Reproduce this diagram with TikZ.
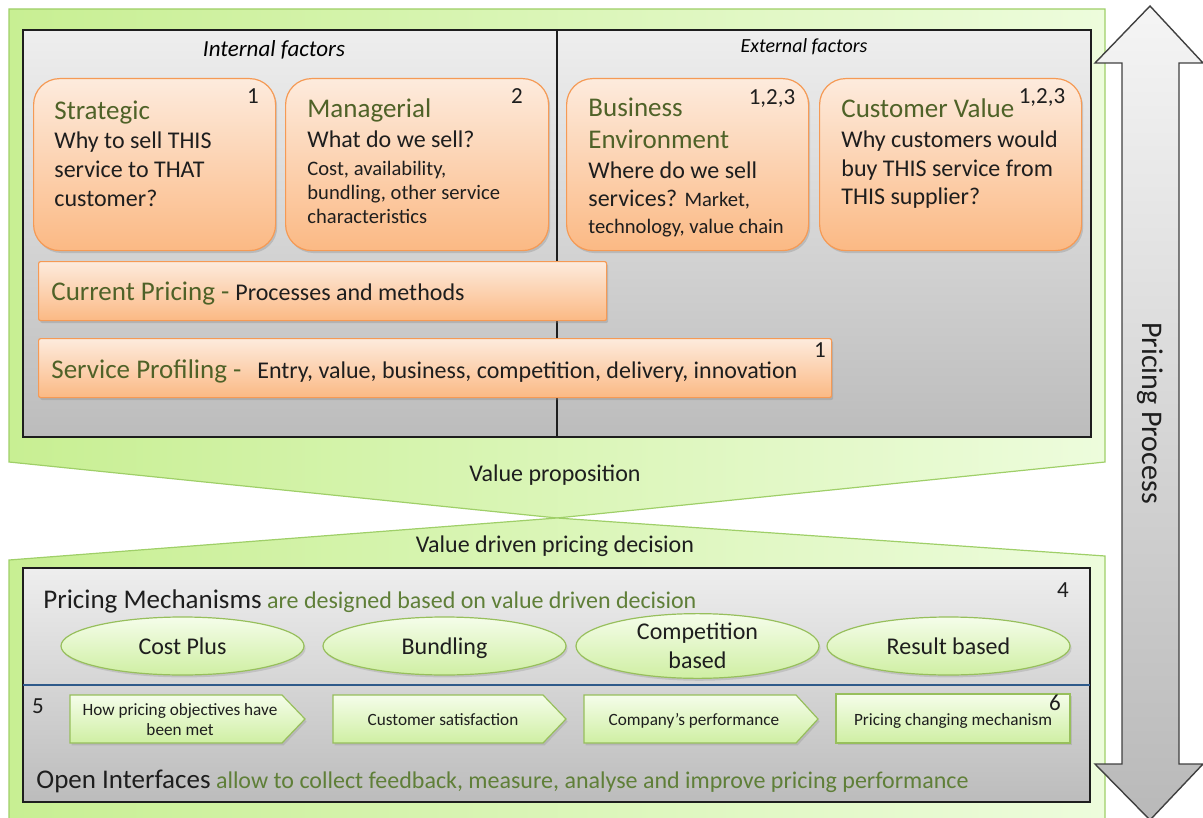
\documentclass[tikz,border=0pt]{standalone}
\usepackage{fontspec}
\setmainfont{Carlito}
\usetikzlibrary{positioning,shapes.geometric,shadows}
\definecolor{ink}{HTML}{1E1E1E}
\definecolor{olive}{HTML}{4F6228}
\definecolor{sage}{HTML}{5F7F38}
\definecolor{limeA}{HTML}{C8EF93}
\definecolor{limeB}{HTML}{EDFCDC}
\definecolor{limeE}{HTML}{9FCF68}
\definecolor{greyA}{HTML}{EEEEEE}
\definecolor{greyB}{HTML}{BCBCBC}
\definecolor{peachA}{HTML}{FDEBDD}
\definecolor{peachB}{HTML}{FBB984}
\definecolor{peachE}{HTML}{F59A55}
\definecolor{pillA}{HTML}{F5FDEA}
\definecolor{pillB}{HTML}{CFEFA3}
\definecolor{pillE}{HTML}{97BF5C}
\definecolor{rule}{HTML}{2E5A8A}
\newcommand{\fhead}[1]{{\fontsize{13.5}{15}\selectfont\color{olive}#1}}
\newcommand{\fsmall}[1]{{\fontsize{10.3}{12}\selectfont #1}}
\tikzset{panel/.style={draw=limeE,line width=.6pt,left color=limeA,right color=limeB},
  frame/.style={draw=ink,line width=.7pt,top color=greyA,bottom color=greyB},
  factor/.style={draw=peachE,line width=.6pt,top color=peachA,bottom color=peachB,rounded corners=13pt,
    drop shadow={opacity=.3,shadow xshift=.8pt,shadow yshift=-1.2pt}},
  strip/.style={factor,rounded corners=1pt},
  mech/.style={ellipse,draw=pillE,line width=.6pt,top color=pillA,bottom color=pillB,
    minimum width=121.5pt,minimum height=29pt,inner sep=0pt,align=center,
    font=\fontsize{12}{14.5}\selectfont,text=ink,drop shadow={opacity=.25,shadow xshift=.8pt,shadow yshift=-1.2pt}},
  stage/.style={draw=pillE,line width=.6pt,top color=pillA,bottom color=pillB,
    drop shadow={opacity=.25,shadow xshift=.8pt,shadow yshift=-1.2pt}},
  stagetxt/.style={font=\fontsize{8.6}{10}\selectfont,text=ink,align=center,inner sep=0pt,anchor=base},
  body/.style={font=\fontsize{12}{14.25}\selectfont,text=ink,align=left,inner sep=0pt,anchor=base west},
  num/.style={font=\fontsize{11.5}{12}\selectfont,text=ink,inner sep=0pt,anchor=base},
  spine/.style={draw=black!75,line width=.7pt,top color=gray!8,bottom color=gray!55}}
\begin{document}
\begin{tikzpicture}[x=.5pt,y=-.5pt]
\useasboundingbox (0,0) rectangle (1203,818);
% green panels
\draw[panel] (9,9) -- (1105,9) -- (1105,462) -- (557,518) -- (9,462) -- cycle;
\draw[panel] (9,560) -- (557,518) -- (1105,556) -- (1105,830) -- (9,830) -- cycle;
% factor frame
\draw[frame] (23,30) rectangle (1091,437);
\draw[ink,line width=.7pt] (557,30) -- (557,437);
\node[font=\fontsize{11.5}{13}\selectfont\itshape,anchor=base] (intf) at (274,57) {Internal factors};
\node[font=\fontsize{10}{12}\selectfont\itshape,anchor=base] (extf) at (804,53) {External factors};
% factor boxes (text anchored at the baseline of the last line)
\node[factor,anchor=north west,minimum width=121pt,minimum height=86pt] (strat) at (33,78) {};
\node[factor,anchor=north west,minimum width=131.5pt,minimum height=86pt] (manag) at (285,78) {};
\node[factor,anchor=north west,minimum width=121pt,minimum height=86pt] (busin) at (566,78) {};
\node[factor,anchor=north west,minimum width=131pt,minimum height=86pt] (custv) at (819,78) {};
\node[body] (strat-t) at (54,206) {\fhead{Strategic}\\[.75pt]Why to sell THIS\\service to THAT\\customer?};
\node[body] (manag-t) at (307,223) {\fhead{Managerial}\\[.75pt]What do we sell?\\[-.75pt]\fsmall{Cost, availability,}\\[-2.25pt]\fsmall{bundling, other service}\\[-2.25pt]\fsmall{characteristics}};
\node[body] (busin-t) at (588,234) {\fhead{Business}\\[1.75pt]\fhead{Environment}\\[.75pt]Where do we sell\\[-.25pt]services? \fsmall{Market,}\\[-.75pt]\fsmall{technology, value chain}};
\node[body] (custv-t) at (841,205) {\fhead{Customer Value}\\[.75pt]Why customers would\\buy THIS service from\\THIS supplier?};
\node[num] (n-strat) at (253,104) {1};
\node[num] (n-manag) at (517,104) {2};
\node[num] (n-busin) at (772,105) {1,2,3};
\node[num] (n-custv) at (1042,104) {1,2,3};
% pricing strips
\node[strip,anchor=north west,minimum width=284pt,minimum height=29.5pt] (curr) at (38,261) {};
\node[strip,anchor=north west,minimum width=396.5pt,minimum height=29.5pt] (prof) at (38,338) {};
\node[body] (curr-t) at (51,300) {\fhead{Current Pricing -}\hspace{3pt}Processes and methods};
\node[body] (prof-t) at (51,378) {\fhead{Service Profiling -}\hspace{8pt}Entry, value, business, competition, delivery, innovation};
\node[num] (n-prof) at (820,357) {1};
% between panels
\node[font=\fontsize{12}{14}\selectfont,text=ink,anchor=base] (vprop) at (555,481) {Value proposition};
\node[font=\fontsize{12}{14}\selectfont,text=ink,anchor=base] (vdec) at (555,552) {Value driven pricing decision};
% mechanism frame
\draw[frame] (23,568) rectangle (1090,802);
\draw[rule,line width=1pt] (23,685) -- (1090,685);
\node[body] (mechs) at (43,608) {{\fontsize{13.5}{15}\selectfont Pricing Mechanisms} {\color{sage}are designed based on value driven decision}};
\node[num] (n-mech) at (1063,597) {4};
\node[mech] (cost) at (182.5,646) {Cost Plus};
\node[mech,text depth=0pt] (bund) at (444.5,646) {Bundling};
\node[mech] (comp) at (697.5,646) {Competition\\based};
\node[mech] (resb) at (948.5,646) {Result based};
% feedback stages
\foreach \xa/\xb/\xc in {70/282/305,333/543/566,584/796/818}
  \draw[stage] (\xa,695) -- (\xb,695) -- (\xc,719) -- (\xb,743) -- (\xa,743) -- cycle;
\draw[stage] (836,694) rectangle (1070,743);
\node[stagetxt] (st1) at (180,735) {How pricing objectives have\\been met};
\node[stagetxt] (st2) at (443,725) {Customer satisfaction};
\node[stagetxt] (st3) at (694,725) {Company’s performance};
\node[stagetxt] (st4) at (953,725) {Pricing changing mechanism};
\node[num] (n-st1) at (38,713) {5};
\node[num] (n-st4) at (1055,710) {6};
\node[body] (open) at (36,788) {{\fontsize{13.5}{15}\selectfont Open Interfaces} {\color{sage}allow to collect feedback, measure, analyse and improve pricing performance}};
% process arrow
\draw[spine] (1150,6) -- (1203,63) -- (1179,63) -- (1179,764) -- (1203,764) -- (1150,820) -- (1095,764) -- (1122,764) -- (1122,63) -- (1095,63) -- cycle;
\node[font=\fontsize{15}{17}\selectfont,text=ink,rotate=-90] (proc) at (1150,413) {Pricing Process};
\end{tikzpicture}
\end{document}
